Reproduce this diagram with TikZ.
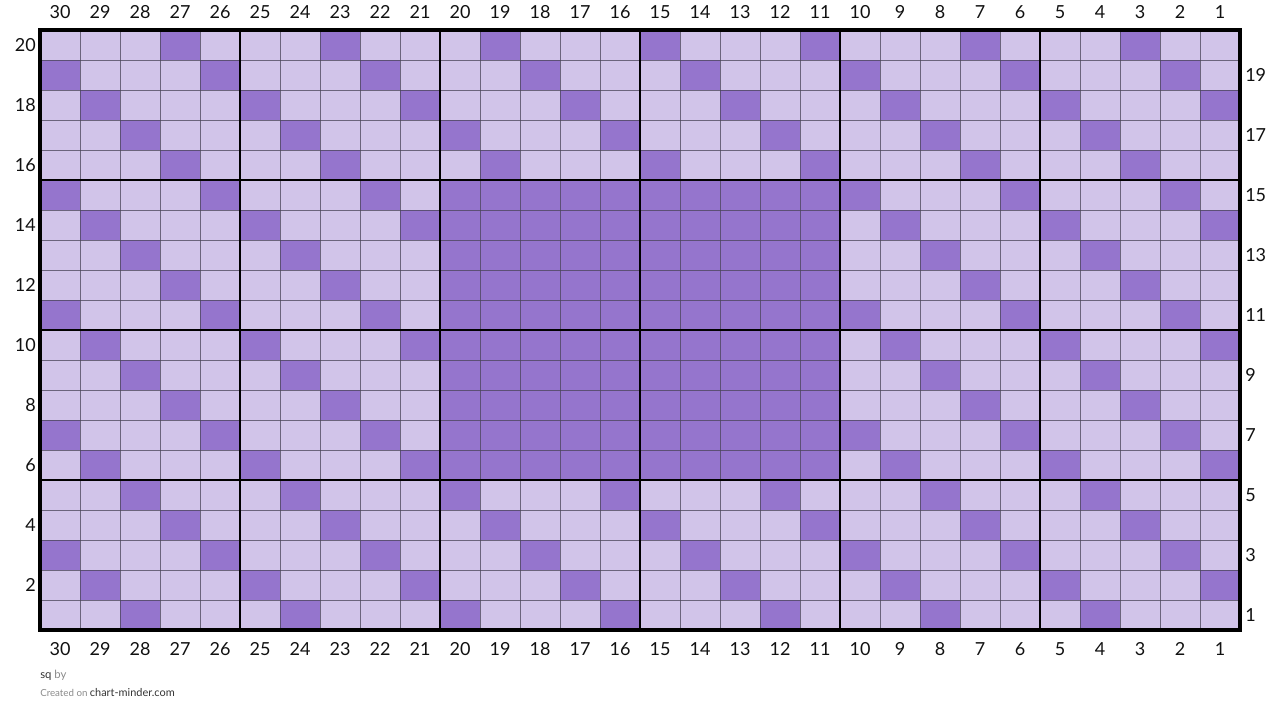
\documentclass[tikz,border=0pt]{standalone}
\usepackage{fontspec}
\setmainfont{Lato}
\usetikzlibrary{positioning}
\definecolor{SqLight}{HTML}{D1C4E9}
\definecolor{SqDark}{HTML}{9575CD}
\definecolor{SqGrid}{HTML}{4A4458}
\definecolor{SqText}{HTML}{111111}
\definecolor{SqFoot}{HTML}{333333}
\definecolor{SqFaint}{HTML}{8A8A8A}

\begin{document}
\begin{tikzpicture}[
    x=0.75pt, y=-0.75pt,
    thin line/.style={draw=SqGrid, line width=0.6pt, opacity=0.75},
    block line/.style={draw=black, line width=1.5pt},
    frame line/.style={draw=black, line width=2.3pt},
    num/.style={font=\fontsize{13.5}{15}\selectfont, text=SqText, inner sep=0pt},
    foot/.style={inner sep=0pt, anchor=west}
  ]
    \useasboundingbox (0,0) rectangle (1280,723);

    % Background of the chart
    \fill[SqLight] (40,30) rectangle (1240,630);

    % Dark stitches: diagonals plus the centre block
    \foreach \c in {0,...,29} {
      \foreach \r in {0,...,19} {
        \pgfmathtruncatemacro{\dark}{(mod(\c-\r+20,4)==3) || (\c>9 && \c<20 && \r>4 && \r<15)}
        \ifnum\dark=1
          \fill[SqDark] (40+40*\c,30+30*\r) rectangle ++(40,30);
        \fi
      }
    }

    % Thin cell lines
    \foreach \c in {1,...,29}
      \draw[thin line] (40+40*\c,30) -- (40+40*\c,630);
    \foreach \r in {1,...,19}
      \draw[thin line] (40,30+30*\r) -- (1240,30+30*\r);

    % Block lines every five cells
    \foreach \c in {5,10,15,20,25}
      \draw[block line] (40+40*\c,30) -- (40+40*\c,630);
    \foreach \r in {5,10,15}
      \draw[block line] (40,30+30*\r) -- (1240,30+30*\r);
    \draw[frame line] (40,30) rectangle (1240,630);

    % Column numbers, top and bottom
    \foreach \c in {0,...,29} {
      \pgfmathtruncatemacro{\lab}{30-\c}
      \node[num] (top\lab) at (60+40*\c,12) {\lab};
      \node[num] (bot\lab) at (60+40*\c,649) {\lab};
    }

    % Row numbers: even on the left, odd on the right
    \foreach \r in {0,2,...,18} {
      \pgfmathtruncatemacro{\lab}{20-\r}
      \node[num, anchor=east] (left\lab) at (36,45+30*\r) {\lab};
    }
    \foreach \r in {1,3,...,19} {
      \pgfmathtruncatemacro{\lab}{20-\r}
      \node[num, anchor=west] (right\lab) at (1245,45+30*\r) {\lab};
    }

    % Footer
    \node[foot] (credit) at (40,675) {\fontsize{8.5}{9}\selectfont\textcolor{SqFoot}{sq} \textcolor{SqFaint}{by}};
    \node[foot] (site) at (40,693) {\fontsize{7.3}{8}\selectfont\textcolor{SqFaint}{Created on} \fontsize{8.2}{9}\selectfont\textcolor{SqFoot}{chart-minder.com}};
  \end{tikzpicture}
\end{document}
